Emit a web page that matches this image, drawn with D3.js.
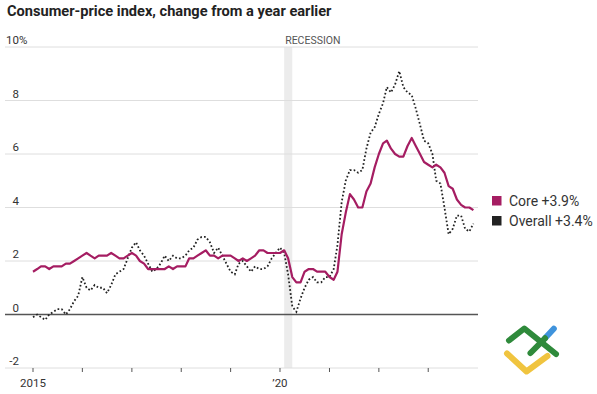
<!DOCTYPE html>
<html>
<head>
<meta charset="utf-8">
<script src="https://cdn.jsdelivr.net/npm/d3@7/dist/d3.min.js"></script>
<style>
body { margin: 0; background: #fff; }
svg { display: block; font-family: Roboto, "Noto Sans", sans-serif; }
</style>
</head>
<body>
<svg width="597" height="394"></svg>
<script>
var title = "Consumer-price index, change from a year earlier";
var firstMonth = "2015-01";

// monthly, Jan 2015 - Dec 2023
var core = [
	1.6, 1.7, 1.8, 1.8, 1.7, 1.8, 1.8, 1.8, 1.9, 1.9, 2.0, 2.1,
	2.2, 2.3, 2.2, 2.1, 2.2, 2.2, 2.2, 2.3, 2.2, 2.1, 2.1, 2.2,
	2.3, 2.2, 2.0, 1.9, 1.7, 1.7, 1.7, 1.7, 1.7, 1.8, 1.7, 1.8,
	1.8, 1.8, 2.1, 2.1, 2.2, 2.3, 2.4, 2.2, 2.2, 2.1, 2.2, 2.2,
	2.2, 2.1, 2.0, 2.1, 2.0, 2.1, 2.2, 2.4, 2.4, 2.3, 2.3, 2.3,
	2.3, 2.4, 2.1, 1.4, 1.2, 1.2, 1.6, 1.7, 1.7, 1.6, 1.6, 1.6,
	1.4, 1.3, 1.6, 3.0, 3.8, 4.5, 4.3, 4.0, 4.0, 4.6, 4.9, 5.5,
	6.0, 6.4, 6.5, 6.2, 6.0, 5.9, 5.9, 6.3, 6.6, 6.3, 6.0, 5.7,
	5.6, 5.5, 5.6, 5.5, 5.3, 4.8, 4.7, 4.3, 4.1, 4.0, 4.0, 3.9
];
var overall = [
	-0.1, 0.0, -0.1, -0.2, 0.0, 0.1, 0.2, 0.2, 0.0, 0.2, 0.5, 0.7,
	1.4, 1.0, 0.9, 1.1, 1.0, 1.0, 0.8, 1.1, 1.5, 1.6, 1.7, 2.1,
	2.5, 2.7, 2.4, 2.2, 1.9, 1.6, 1.7, 1.9, 2.2, 2.0, 2.2, 2.1,
	2.1, 2.2, 2.4, 2.5, 2.8, 2.9, 2.9, 2.7, 2.3, 2.5, 2.2, 1.9,
	1.6, 1.5, 1.9, 2.0, 1.8, 1.6, 1.8, 1.7, 1.7, 1.8, 2.1, 2.3,
	2.5, 2.3, 1.5, 0.3, 0.1, 0.6, 1.0, 1.3, 1.4, 1.2, 1.2, 1.4,
	1.4, 1.7, 2.6, 4.2, 5.0, 5.4, 5.4, 5.3, 5.4, 6.2, 6.8, 7.0,
	7.5, 7.9, 8.5, 8.3, 8.6, 9.1, 8.5, 8.3, 8.2, 7.7, 7.1, 6.5,
	6.4, 6.0, 5.0, 4.9, 4.0, 3.0, 3.2, 3.7, 3.7, 3.2, 3.1, 3.4
];

var yTicks = [-2, 0, 2, 4, 6, 8, 10];
var xTickYears = [2015, 2016, 2017, 2018, 2019, 2020, 2021, 2022, 2023];
var xTickLabels = { 2015: "2015", 2020: "\u201920" };
var recession = ["2020-02", "2020-04"];
var legendLabels = ["Core +3.9%", "Overall +3.4%"];

var svg = d3.select("svg"),
	width = +svg.attr("width"),
	height = +svg.attr("height");

var coreColor = "#a51d62",
	overallColor = "#222";

var parseMonth = d3.timeParse("%Y-%m");
var start = parseMonth(firstMonth);

var x = d3.scaleTime()
	.domain([new Date(2015, 0, 1), new Date(2024, 0, 1)])
	.range([33, 477.6]);

var y = d3.scaleLinear()
	.domain([-2, 10])
	.range([368, 47]);

var gridLeft = 5, gridRight = 478;

// title
svg.append("text")
	.attr("x", 7)
	.attr("y", 16)
	.attr("font-size", 14.6)
	.attr("font-weight", "bold")
	.attr("fill", "#222")
	.text(title);

// recession band
svg.append("rect")
	.attr("x", x(parseMonth(recession[0])))
	.attr("y", y(10))
	.attr("width", x(parseMonth(recession[1])) - x(parseMonth(recession[0])))
	.attr("height", y(-2) - y(10))
	.attr("fill", "#ececec");

svg.append("text")
	.attr("x", x(parseMonth(recession[0])) + 1)
	.attr("y", y(10) - 3)
	.attr("font-size", 10.5)
	.attr("fill", "#555")
	.text("RECESSION");

// gridlines
svg.append("g")
	.selectAll("line")
	.data(yTicks)
	.enter().append("line")
	.attr("x1", gridLeft)
	.attr("x2", gridRight)
	.attr("y1", function(d) { return y(d); })
	.attr("y2", function(d) { return y(d); })
	.attr("stroke", function(d) { return d === 0 ? "#555" : "#dedede"; })
	.attr("stroke-width", function(d) { return d === 0 ? 1.3 : 1; });

var yLabels = svg.append("g")
	.attr("font-size", 11.5)
	.attr("fill", "#333");

yLabels.selectAll("text.num")
	.data(yTicks)
	.enter().append("text")
	.attr("class", "num")
	.attr("x", 19)
	.attr("y", function(d) { return y(d) - 3; })
	.attr("text-anchor", "end")
	.text(function(d) { return d < 0 ? "-" + Math.abs(d) : d; });

yLabels.append("text")
	.attr("x", 19)
	.attr("y", y(10) - 3)
	.text("%");

// x ticks
var xAxis = svg.append("g");

xAxis.selectAll("line")
	.data(xTickYears)
	.enter().append("line")
	.attr("x1", function(d) { return x(new Date(d, 0, 1)); })
	.attr("x2", function(d) { return x(new Date(d, 0, 1)); })
	.attr("y1", y(-2))
	.attr("y2", y(-2) + 4)
	.attr("stroke", "#555")
	.attr("stroke-width", 1);

xAxis.selectAll("text")
	.data(xTickYears.filter(function(d) { return xTickLabels[d]; }))
	.enter().append("text")
	.attr("x", function(d) { return x(new Date(d, 0, 1)); })
	.attr("y", 387)
	.attr("text-anchor", "middle")
	.attr("font-size", 11.5)
	.attr("fill", "#333")
	.text(function(d) { return xTickLabels[d]; });

// lines
var line = d3.line()
	.x(function(d, i) { return x(d3.timeMonth.offset(start, i)); })
	.y(function(d) { return y(d); });

svg.append("path")
	.datum(overall)
	.attr("d", line)
	.attr("fill", "none")
	.attr("stroke", overallColor)
	.attr("stroke-width", 1.8)
	.attr("stroke-dasharray", "1.7,2.2");

svg.append("path")
	.datum(core)
	.attr("d", line)
	.attr("fill", "none")
	.attr("stroke", coreColor)
	.attr("stroke-width", 2.2)
	.attr("stroke-linejoin", "round");

// legend
var legend = svg.append("g")
	.selectAll("g")
	.data(legendLabels)
	.enter().append("g")
	.attr("transform", function(d, i) { return "translate(492," + (196 + i * 20) + ")"; });

legend.append("rect")
	.attr("width", 9.5)
	.attr("height", 9.5)
	.attr("fill", function(d, i) { return i === 0 ? coreColor : overallColor; });

legend.append("text")
	.attr("x", 17)
	.attr("y", 9.5)
	.attr("font-size", 14)
	.attr("fill", "#333")
	.text(function(d) { return d; });

// watermark logo
var logo = svg.append("g")
	.attr("fill", "none")
	.attr("stroke-width", 6)
	.attr("stroke-linecap", "round")
	.attr("stroke-linejoin", "round");

logo.append("path")
	.attr("d", "M507,353.5L526.5,371.5L547.5,356")
	.attr("stroke", "#f0c43f");
logo.append("path")
	.attr("d", "M509,340.5L524.3,328.5L556,354")
	.attr("stroke", "#2f8a3b");
logo.append("path")
	.attr("d", "M545,338.3L553.8,328.8")
	.attr("stroke", "#3f93dc");
logo.append("path")
	.attr("d", "M530.5,353L545,338.3")
	.attr("stroke", "#2f8a3b");
</script>
</body>
</html>
